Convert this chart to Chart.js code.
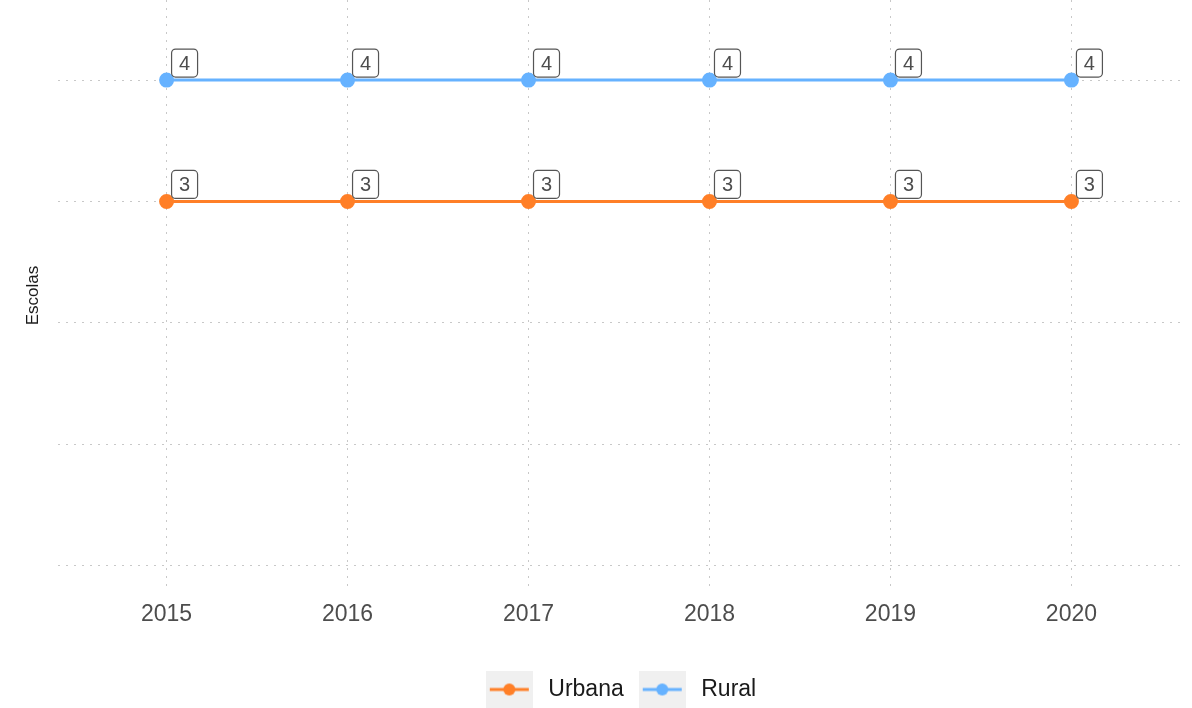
<!DOCTYPE html>
<html>
<head>
<meta charset="utf-8">
<script src="https://cdn.jsdelivr.net/npm/chart.js@4"></script>
<style>
  html, body { margin: 0; padding: 0; background: #fff; }
  #wrap { width: 1192px; height: 708px; }
</style>
</head>
<body>
<div id="wrap"><canvas id="escolasChart"></canvas></div>
<script>
/* ------------- DADOS ------------- */
const anos    = [2015, 2016, 2017, 2018, 2019, 2020];
const urbana  = [3, 3, 3, 3, 3, 3];
const rural   = [4, 4, 4, 4, 4, 4];
const yTicks  = [0, 1, 2, 3, 4];

const COR_URBANA = "#ff7f27";
const COR_RURAL  = "#66b2ff";
const FONTE = "'Liberation Sans', Arial, sans-serif";

/* ---------- chave da legenda (fundo cinza + linha + ponto) ---------- */
function legendKey(color){
  const c = document.createElement("canvas");
  c.width = 47; c.height = 38;
  const g = c.getContext("2d");
  g.fillStyle = "#f0f0f0";
  g.fillRect(0, 0, 47, 38);
  g.strokeStyle = color;
  g.lineWidth = 3;
  g.beginPath(); g.moveTo(4, 19); g.lineTo(43, 19); g.stroke();
  g.fillStyle = color;
  g.beginPath(); g.arc(23.5, 19, 6, 0, Math.PI * 2); g.fill();
  return c;
}

/* ---------- rótulos com caixa arredondada ---------- */
const boxLabels = {
  id: "boxLabels",
  afterDatasetsDraw(chart){
    const ctx = chart.ctx;
    ctx.save();
    ctx.font = "20px " + FONTE;
    ctx.textAlign = "center";
    ctx.textBaseline = "middle";
    chart.data.datasets.forEach((ds, i) => {
      chart.getDatasetMeta(i).data.forEach((pt, j) => {
        const txt = String(ds.data[j].y);
        const w = 26, h = 28;
        const x = pt.x + 5, y = pt.y - 3 - h;
        ctx.beginPath();
        ctx.roundRect(x, y, w, h, 4);
        ctx.fillStyle = "#fff";
        ctx.fill();
        ctx.lineWidth = 1.2;
        ctx.strokeStyle = "#555";
        ctx.stroke();
        ctx.fillStyle = "#4d4d4d";
        ctx.fillText(txt, x + w / 2, y + h / 2 + 1);
      });
    });
    ctx.restore();
  }
};

const toXY = arr => arr.map((v, i) => ({x: anos[i], y: v}));

new Chart(document.getElementById("escolasChart"), {
  type: "line",
  data: {
    datasets: [
      {
        label: "Urbana",
        data: toXY(urbana),
        borderColor: COR_URBANA,
        backgroundColor: COR_URBANA,
        borderWidth: 3,
        pointRadius: 6,
        pointHoverRadius: 6
      },
      {
        label: "Rural",
        data: toXY(rural),
        borderColor: COR_RURAL,
        backgroundColor: COR_RURAL,
        borderWidth: 3,
        pointRadius: 6,
        pointHoverRadius: 6
      }
    ]
  },
  options: {
    responsive: true,
    maintainAspectRatio: false,
    animation: false,
    layout: { autoPadding: false, padding: { left: 0, right: 12, top: 0, bottom: -3 } },
    plugins: {
      tooltip: { enabled: false },
      legend: {
        position: "bottom",
        fullSize: false,
        labels: {
          usePointStyle: true,
          pointStyleWidth: 55,
          boxHeight: 20,
          padding: 11,
          color: "#1a1a1a",
          font: { family: FONTE, size: 23 },
          generateLabels(chart){
            return chart.data.datasets.map((ds, i) => ({
              text: ds.label,
              pointStyle: legendKey(ds.borderColor),
              fillStyle: ds.borderColor,
              strokeStyle: ds.borderColor,
              lineWidth: 0,
              datasetIndex: i,
              fontColor: "#1a1a1a"
            }));
          }
        }
      }
    },
    scales: {
      x: {
        type: "linear",
        min: 2014.4,
        max: 2020.6,
        afterBuildTicks: s => { s.ticks = anos.map(v => ({value: v})); },
        afterFit: s => { s.height = 76; },
        ticks: {
          padding: 10,
          color: "#4d4d4d",
          font: { family: FONTE, size: 23 },
          callback: v => String(v)
        },
        grid: { color: "#c8c8c8", lineWidth: 1, drawTicks: false },
        border: { display: false, dash: [2, 6] }
      },
      y: {
        min: -0.21,
        max: 4.66,
        afterBuildTicks: s => { s.ticks = yTicks.map(v => ({value: v})); },
        afterFit: s => { s.width = 58; },
        ticks: { display: false },
        title: {
          display: true,
          text: "Escolas",
          color: "#1a1a1a",
          font: { family: FONTE, size: 17 },
          padding: { top: 23, bottom: 0 }
        },
        grid: { color: "#c8c8c8", lineWidth: 1, drawTicks: false },
        border: { display: false, dash: [2, 6] }
      }
    }
  },
  plugins: [boxLabels]
});
</script>
</body>
</html>
